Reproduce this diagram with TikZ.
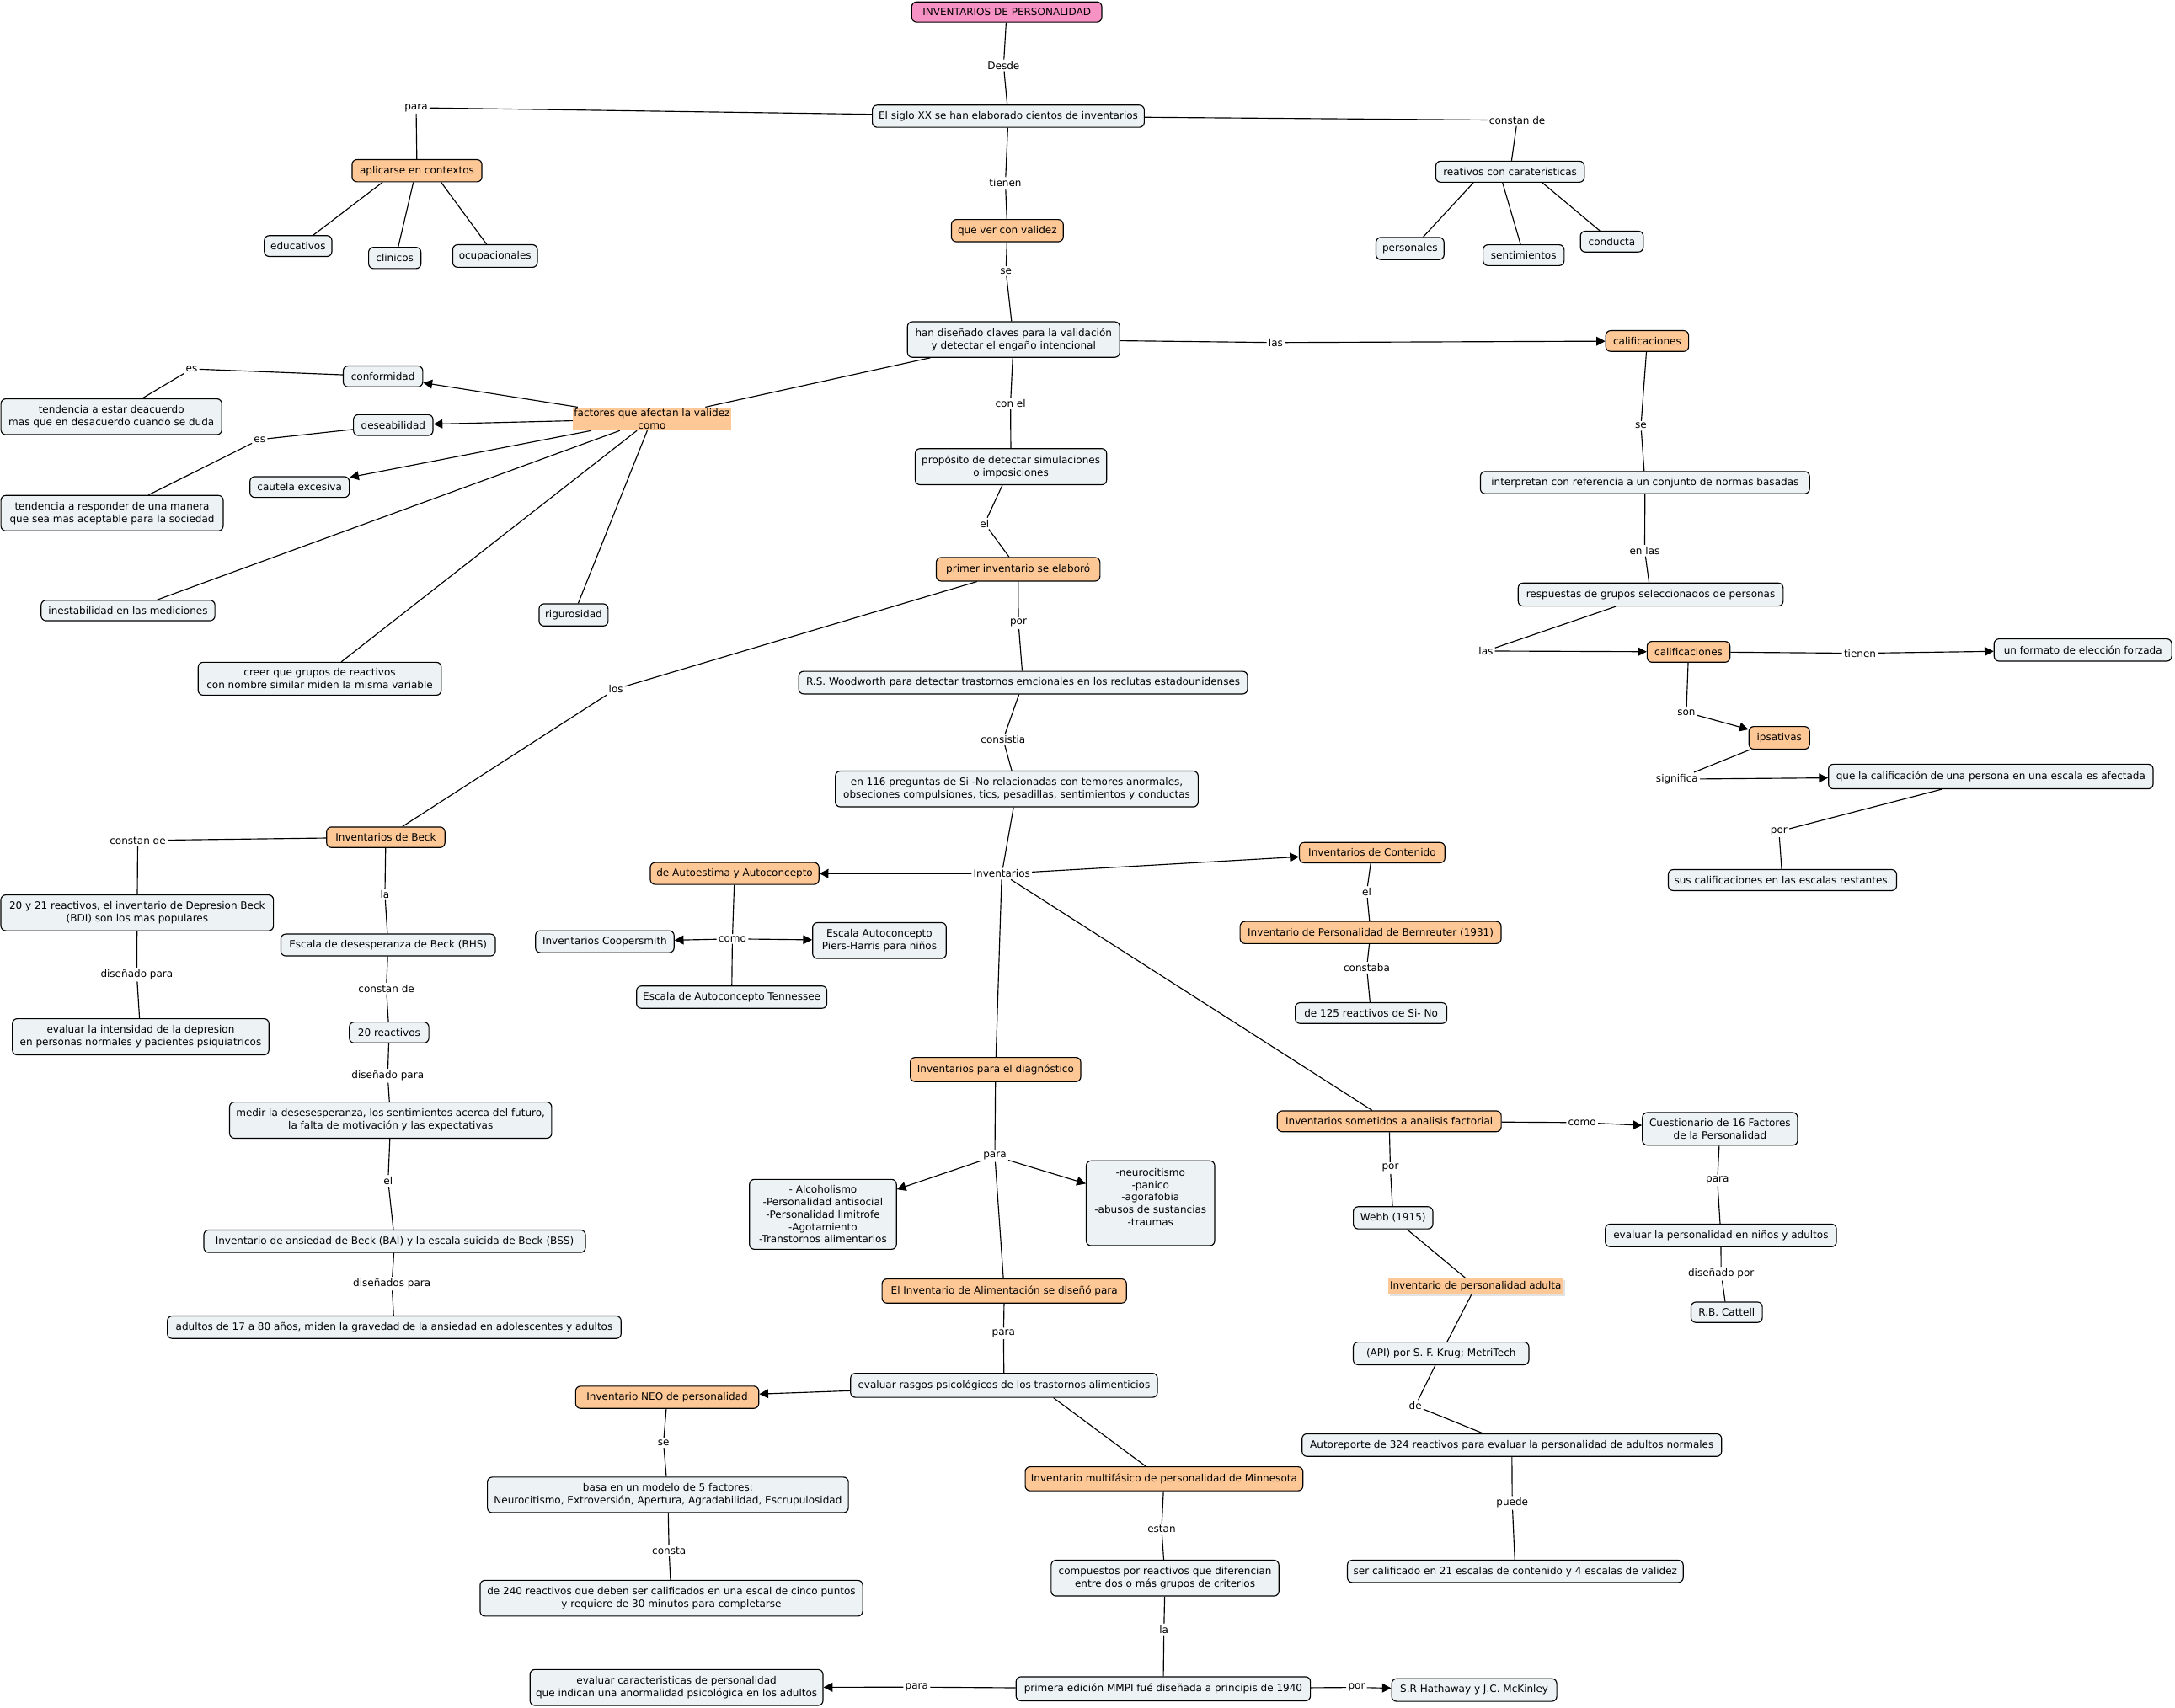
\documentclass[tikz,border=0pt]{standalone}
\usepackage{fontspec}
\setmainfont{DejaVu Sans}
\usetikzlibrary{arrows.meta,shadows}
\definecolor{cfill}{RGB}{237,243,245}
\definecolor{ofill}{RGB}{254,200,150}
\definecolor{pfill}{RGB}{247,146,196}
\newcommand\mapfont{\fontsize{7.3}{9}\selectfont}
\begin{document}
\begin{tikzpicture}[x=1pt,y=-1pt,
 cb/.style={draw=black,line width=0.7pt,rounded corners=3.5pt,fill=cfill,font=\mapfont,inner xsep=2pt,inner ysep=1pt,align=center},
 ob/.style={cb,fill=ofill},
 lb/.style={font=\mapfont,inner sep=1.2pt},
 ln/.style={line width=0.7pt},
 ar/.style={line width=0.7pt,-{Triangle[length=6.5pt,width=6.5pt]}},
 sz/.style 2 args={minimum width=#1pt,minimum height=#2pt}]
\useasboundingbox (0,0) rectangle (1568,1231);
\fill[white] (0,0) rectangle (1568,1231);

% ---------- concepts ----------
\node[cb,fill=pfill,sz={137}{14.5}] (title) at (725.8,8.6) {INVENTARIOS DE PERSONALIDAD};
\node[cb,sz={196}{16}] (siglo) at (726.9,83.8) {El siglo XX se han elaborado cientos de inventarios};
\node[ob,sz={93.6}{16}] (aplicarse) at (300.6,123.1) {aplicarse en contextos};
\node[cb,sz={48.7}{15}] (educativos) at (214.9,177.4) {educativos};
\node[cb,sz={37.7}{15.3}] (clinicos) at (284.6,186) {clinicos};
\node[cb,sz={61}{16.3}] (ocupacionales) at (356.9,184.6) {ocupacionales};
\node[cb,sz={107}{15.2}] (reativos) at (1088.6,123.8) {reativos con carateristicas};
\node[cb,sz={49}{16}] (personales) at (1016.5,179.2) {personales};
\node[cb,sz={58.4}{15}] (sentimientos) at (1098.4,184) {sentimientos};
\node[cb,sz={45.3}{15}] (conducta) at (1162,174.2) {conducta};
\node[ob,sz={80.6}{16}] (queverval) at (726.2,166.3) {que ver con validez};
\node[cb,sz={153}{25.6}] (handisenado) at (730.7,244.8) {han diseñado claves para la validación\\ y detectar el engaño intencional};
\node[ob,sz={59.7}{15}] (calif1) at (1187.5,245.9) {calificaciones};
\node[fill=ofill,font=\mapfont,align=center,inner sep=0pt,sz={114}{16.5}] (factores) at (470,302) {factores que afectan la validez\\como};
\node[cb,sz={57.3}{15}] (conformidad) at (276.1,271.4) {conformidad};
\node[cb,sz={57.3}{15}] (deseabilidad) at (283.5,306.5) {deseabilidad};
\node[cb,sz={71.6}{15}] (cautela) at (216,351.2) {cautela excesiva};
\node[cb,sz={159.2}{25.8}] (tendencia1) at (80.3,300.5) {tendencia a estar deacuerdo\\mas que en desacuerdo cuando se duda};
\node[cb,sz={160.2}{25.5}] (tendencia2) at (80.8,370) {tendencia a responder de una manera\\que sea mas aceptable para la sociedad};
\node[cb,sz={125.3}{14.7}] (inestabilidad) at (92.3,440.2) {inestabilidad en las mediciones};
\node[cb,sz={49.7}{16}] (rigurosidad) at (413.5,443.4) {rigurosidad};
\node[cb,sz={175.2}{23.7}] (creer) at (230.5,489.4) {creer que grupos de reactivos\\con nombre similar miden la misma variable};
\node[cb,sz={138}{26}] (proposito) at (728.8,336.5) {propósito de detectar simulaciones\\o imposiciones};
\node[cb,sz={237.3}{16}] (interpretan) at (1185.9,348) {interpretan con referencia a un conjunto de normas basadas};
\node[ob,sz={118}{17}] (primer) at (734,410.5) {primer inventario se elaboró};
\node[cb,sz={191}{16.6}] (respuestas) at (1190,428.7) {respuestas de grupos seleccionados de personas};
\node[ob,sz={59.7}{15}] (calif2) at (1217.3,470) {calificaciones};
\node[cb,sz={128}{16}] (formato) at (1501.6,468.7) {un formato de elección forzada};
\node[ob,sz={43.7}{16.3}] (ipsativas) at (1282.7,532) {ipsativas};
\node[cb,sz={234}{17.7}] (quecalif) at (1435.2,559.9) {que la calificación de una persona en una escala es afectada};
\node[cb,sz={164.6}{15.1}] (sus) at (1285,634.6) {sus calificaciones en las escalas restantes.};
\node[cb,sz={323.5}{16.3}] (woodworth) at (737.6,492.2) {R.S. Woodworth para detectar trastornos emcionales en los reclutas estadounidenses};
\node[cb,sz={261.5}{25.8}] (en116) at (733,568.9) {en 116 preguntas de Si -No relacionadas con temores anormales,\\obseciones compulsiones, tics, pesadillas, sentimientos y conductas};
\node[ob,sz={85.3}{14.8}] (beck) at (278.1,603.7) {Inventarios de Beck};
\node[ob,sz={121.6}{15.8}] (autoestima) at (529.6,629.8) {de Autoestima y Autoconcepto};
\node[ob,sz={104.9}{14.7}] (contenido) at (989.2,614.8) {Inventarios de Contenido};
\node[ob,sz={188.2}{15.9}] (bernreuter) at (988.1,672.4) {Inventario de Personalidad de Bernreuter (1931)};
\node[cb,sz={109.3}{15}] (de125) at (988.4,730.5) {de 125 reactivos de Si- No};
\node[cb,sz={196.5}{25.8}] (bdi) at (98.9,658.2) {20 y 21 reactivos, el inventario de Depresion Beck\\(BDI) son los mas populares};
\node[cb,sz={154.6}{15.8}] (bhs) at (279.8,681.4) {Escala de desesperanza de Beck (BHS)};
\node[cb,sz={99.9}{15.8}] (coopersmith) at (436,679) {Inventarios Coopersmith};
\node[cb,sz={96.3}{25.9}] (piers) at (634,678.2) {Escala Autoconcepto\\Piers-Harris para niños};
\node[cb,sz={137.2}{16.1}] (tennessee) at (527.5,719) {Escala de Autoconcepto Tennessee};
\node[cb,sz={184.9}{26.1}] (evaldep) at (101.4,747.6) {evaluar la intensidad de la depresion\\en personas normales y pacientes psiquiatricos};
\node[cb,sz={57.3}{15}] (r20) at (280.5,744.5) {20 reactivos};
\node[cb,sz={232.2}{26}] (medir) at (281.6,807.7) {medir la desesesperanza, los sentimientos acerca del futuro,\\la falta de motivación y las expectativas};
\node[ob,sz={122.9}{17.4}] (diagnostico) at (717.7,771.2) {Inventarios para el diagnóstico};
\node[ob,sz={161.5}{15}] (factorial) at (1001.5,808.5) {Inventarios sometidos a analisis factorial};
\node[cb,sz={111.9}{23.5}] (cuestionario) at (1240,814) {Cuestionario de 16 Factores\\de la Personalidad};
\node[cb,sz={105.9}{50.4}] (alcoholismo) at (593.3,875.6) {- Alcoholismo\\-Personalidad antisocial\\-Personalidad limitrofe\\-Agotamiento\\-Transtornos alimentarios};
\node[cb,sz={92.6}{61.2}] (neurocitismo) at (829.4,867.6) {-neurocitismo\\-panico\\-agorafobia\\-abusos de sustancias\\-traumas\\~};
\node[cb,sz={57.3}{16}] (webb) at (1004.3,878.1) {Webb (1915)};
\node[cb,sz={166.6}{16.3}] (evaluar16) at (1240.6,890.8) {evaluar la personalidad en niños y adultos};
\node[cb,sz={275.1}{16.2}] (bai) at (284.5,895) {Inventario de ansiedad de Beck (BAI) y la escala suicida de Beck (BSS)};
\node[fill=ofill,font=\mapfont,inner sep=0pt,sz={126.4}{11.5},drop shadow={fill=black!22,shadow xshift=1.2pt,shadow yshift=-1.2pt}] (adulta) at (1063.8,927.6) {Inventario de personalidad adulta};
\node[cb,sz={51.4}{14.7}] (cattell) at (1244.8,946.2) {R.B. Cattell};
\node[ob,sz={176.2}{17.4}] (alimentacion) at (724,930.9) {El Inventario de Alimentación se diseñó para};
\node[cb,sz={327.1}{16.2}] (adultos17) at (284.2,957) {adultos de 17 a 80 años, miden la gravedad de la ansiedad en adolescentes y adultos};
\node[cb,sz={126.6}{16.3}] (api) at (1038.9,975.9) {(API) por S. F. Krug; MetriTech};
\node[cb,sz={221.2}{17.3}] (rasgos) at (723.8,998.9) {evaluar rasgos psicológicos de los trastornos alimenticios};
\node[ob,sz={132}{16}] (neo) at (481,1007.5) {Inventario NEO de personalidad};
\node[cb,sz={302.4}{16.3}] (autoreporte) at (1089.9,1042) {Autoreporte de 324 reactivos para evaluar la personalidad de adultos normales};
\node[ob,sz={200.2}{17.3}] (minnesota) at (839.2,1066.3) {Inventario multifásico de personalidad de Minnesota};
\node[cb,sz={260.2}{25.6}] (basa) at (481.5,1077.9) {basa en un modelo de 5 factores:\\Neurocitismo, Extroversión, Apertura, Agradabilidad, Escrupulosidad};
\node[cb,sz={242.1}{16}] (calif21) at (1092.4,1133) {ser calificado en 21 escalas de contenido y 4 escalas de validez};
\node[cb,sz={164.2}{25.8}] (compuestos) at (839.9,1137.9) {compuestos por reactivos que diferencian\\entre dos o más grupos de criterios};
\node[cb,sz={275.8}{25.8}] (de240) at (484,1152.4) {de 240 reactivos que deben ser calificados en una escal de cinco puntos\\y requiere de 30 minutos para completarse};
\node[cb,sz={211.2}{25.9}] (evalcar) at (487.7,1216.8) {evaluar caracteristicas de personalidad\\que indican una anormalidad psicológica en los adultos};
\node[cb,sz={212.2}{17.3}] (primeraed) at (838.6,1217.7) {primera edición MMPI fué diseñada a principis de 1940};
\node[cb,sz={119}{16.3}] (hathaway) at (1062.8,1218.6) {S.R Hathaway y J.C. McKinley};

% ---------- linking phrases ----------
\node[lb] (l1) at (723.5,47.1) {Desde};
\node[lb] (l2) at (300,77.7) {para};
\node[lb] (l3) at (1093.8,86.7) {constan de};
\node[lb] (l4) at (724.8,132) {tienen};
\node[lb] (l5) at (725.2,195.4) {se};
\node[lb] (l6) at (919.7,247) {las};
\node[lb] (l7) at (728.5,291) {con el};
\node[lb] (l8) at (709.8,377.5) {el};
\node[lb] (l9) at (138.2,266) {es};
\node[lb] (l10) at (187.2,316.9) {es};
\node[lb] (l11) at (444,496.8) {los};
\node[lb] (l12) at (99.3,606) {constan de};
\node[lb] (l13) at (277.5,644.8) {la};
\node[lb] (l14) at (98.6,702.7) {diseñado para};
\node[lb] (l15) at (278.5,712.8) {constan de};
\node[lb] (l16) at (279.5,775.7) {diseñado para};
\node[lb] (l17) at (528,677) {como};
\node[lb] (l18) at (734.2,449.3) {por};
\node[lb] (l19) at (723.2,533.1) {consistia};
\node[lb] (l20) at (722.2,630) {Inventarios};
\node[lb] (l21) at (985.3,643.2) {el};
\node[lb] (l22) at (985.3,697.7) {constaba};
\node[lb] (l23) at (1183,307) {se};
\node[lb] (l24) at (1185.7,397) {en las};
\node[lb] (l25) at (1071.2,469.4) {las};
\node[lb] (l26) at (1340.9,471) {tienen};
\node[lb] (l27) at (1215.7,513.6) {son};
\node[lb] (l28) at (1209,561.8) {significa};
\node[lb] (l29) at (1282.5,599.5) {por};
\node[lb] (l30) at (1140.6,809.4) {como};
\node[lb] (l31) at (279.8,851.5) {el};
\node[lb] (l32) at (282.5,925.6) {diseñados para};
\node[lb] (l33) at (478.3,1040.5) {se};
\node[lb] (l34) at (482.3,1118) {consta};
\node[lb] (l35) at (717.2,833.6) {para};
\node[lb] (l36) at (723.5,961.5) {para};
\node[lb] (l37) at (837.4,1102.3) {estan};
\node[lb] (l38) at (839.1,1174.9) {la};
\node[lb] (l39) at (660.9,1216.5) {para};
\node[lb] (l40) at (978,1216.7) {por};
\node[lb] (l41) at (1002.3,842.2) {por};
\node[lb] (l42) at (1020.3,1013.7) {de};
\node[lb] (l43) at (1238.1,851.2) {para};
\node[lb] (l44) at (1240.8,918.4) {diseñado por};
\node[lb] (l45) at (1090.2,1083.7) {puede};

% ---------- connectors ----------
\draw[ln] (title) -- (l1);
\draw[ln] (l1) -- (siglo);
\draw[ln] (siglo) -- (l2);
\draw[ln] (l2) -- (aplicarse);
\draw[ln] ([xshift=-24.8pt]aplicarse.south) -- ([xshift=10.9pt]educativos.north);
\draw[ln] ([xshift=-2.6pt]aplicarse.south) -- ([xshift=2.5pt]clinicos.north);
\draw[ln] ([xshift=17.4pt]aplicarse.south) -- ([xshift=-6.1pt]ocupacionales.north);
\draw[ln] (siglo) -- (l3);
\draw[ln] (l3) -- (reativos);
\draw[ln] ([xshift=-26.4pt]reativos.south) -- ([xshift=9.5pt]personales.north);
\draw[ln] ([xshift=-5.4pt]reativos.south) -- ([xshift=-2.2pt]sentimientos.north);
\draw[ln] ([xshift=23.3pt]reativos.south) -- ([xshift=-8.7pt]conducta.north);
\draw[ln] (siglo) -- (l4);
\draw[ln] (l4) -- (queverval);
\draw[ln] (queverval) -- (l5);
\draw[ln] (l5) -- (handisenado);
\draw[ln] (handisenado) -- (l6);
\draw[ar] (l6) -- (calif1);
\draw[ln] (handisenado) -- (factores);
\draw[ar] (factores) -- (conformidad);
\draw[ar] (factores) -- (deseabilidad);
\draw[ar] (factores) -- (cautela);
\draw[ln] (factores) -- (inestabilidad);
\draw[ln] (factores) -- (creer);
\draw[ln] (factores) -- (rigurosidad);
\draw[ln] (conformidad) -- (l9);
\draw[ln] (l9) -- (tendencia1);
\draw[ln] (deseabilidad) -- (l10);
\draw[ln] (l10) -- (tendencia2);
\draw[ln] (handisenado) -- (l7);
\draw[ln] (l7) -- (proposito);
\draw[ln] (proposito) -- (l8);
\draw[ln] (l8) -- (primer);
\draw[ln] (primer) -- (l18);
\draw[ln] (l18) -- (woodworth);
\draw[ln] (primer) -- (l11);
\draw[ln] (l11) -- (beck);
\draw[ln] (woodworth) -- (l19);
\draw[ln] (l19) -- (en116);
\draw[ln] (en116) -- (l20);
\draw[ar] (l20) -- (autoestima);
\draw[ar] (l20) -- (contenido);
\draw[ln] (l20) -- (diagnostico);
\draw[ln] (l20) -- (factorial);
\draw[ln] (autoestima) -- (l17);
\draw[ar] (l17) -- (coopersmith);
\draw[ar] (l17) -- (piers);
\draw[ln] (l17) -- (tennessee);
\draw[ln] (contenido) -- (l21);
\draw[ln] (l21) -- (bernreuter);
\draw[ln] (bernreuter) -- (l22);
\draw[ln] (l22) -- (de125);
\draw[ln] (beck) -- (l12);
\draw[ln] (l12) -- (bdi);
\draw[ln] (bdi) -- (l14);
\draw[ln] (l14) -- (evaldep);
\draw[ln] (beck) -- (l13);
\draw[ln] (l13) -- (bhs);
\draw[ln] (bhs) -- (l15);
\draw[ln] (l15) -- (r20);
\draw[ln] (r20) -- (l16);
\draw[ln] (l16) -- (medir);
\draw[ln] (medir) -- (l31);
\draw[ln] (l31) -- (bai);
\draw[ln] (bai) -- (l32);
\draw[ln] (l32) -- (adultos17);
\draw[ln] (calif1) -- (l23);
\draw[ln] (l23) -- (interpretan);
\draw[ln] (interpretan) -- (l24);
\draw[ln] (l24) -- (respuestas);
\draw[ln] (respuestas) -- (l25);
\draw[ar] (l25) -- (calif2);
\draw[ln] (calif2) -- (l26);
\draw[ar] (l26) -- (formato);
\draw[ln] (calif2) -- (l27);
\draw[ar] (l27) -- (ipsativas);
\draw[ln] (ipsativas) -- (l28);
\draw[ar] (l28) -- (quecalif);
\draw[ln] (quecalif) -- (l29);
\draw[ln] (l29) -- (sus);
\draw[ln] (diagnostico) -- (l35);
\draw[ar] (l35) -- (alcoholismo);
\draw[ar] (l35) -- (neurocitismo);
\draw[ln] (l35) -- (alimentacion);
\draw[ln] (factorial) -- (l30);
\draw[ar] (l30) -- (cuestionario);
\draw[ln] (factorial) -- (l41);
\draw[ln] (l41) -- (webb);
\draw[ln] (webb) -- (adulta);
\draw[ln] (adulta) -- (api);
\draw[ln] (api) -- (l42);
\draw[ln] (l42) -- (autoreporte);
\draw[ln] (autoreporte) -- (l45);
\draw[ln] (l45) -- (calif21);
\draw[ln] (cuestionario) -- (l43);
\draw[ln] (l43) -- (evaluar16);
\draw[ln] (evaluar16) -- (l44);
\draw[ln] (l44) -- (cattell);
\draw[ln] (alimentacion) -- (l36);
\draw[ln] (l36) -- (rasgos);
\draw[ar] (rasgos) -- (neo);
\draw[ln] ([xshift=35.7pt]rasgos.south) -- ([xshift=-13.2pt]minnesota.north);
\draw[ln] (neo) -- (l33);
\draw[ln] (l33) -- (basa);
\draw[ln] (basa) -- (l34);
\draw[ln] (l34) -- (de240);
\draw[ln] (minnesota) -- (l37);
\draw[ln] (l37) -- (compuestos);
\draw[ln] (compuestos) -- (l38);
\draw[ln] (l38) -- (primeraed);
\draw[ln] (primeraed) -- (l39);
\draw[ar] (l39) -- (evalcar);
\draw[ln] (primeraed) -- (l40);
\draw[ar] (l40) -- (hathaway);
\end{tikzpicture}
\end{document}
